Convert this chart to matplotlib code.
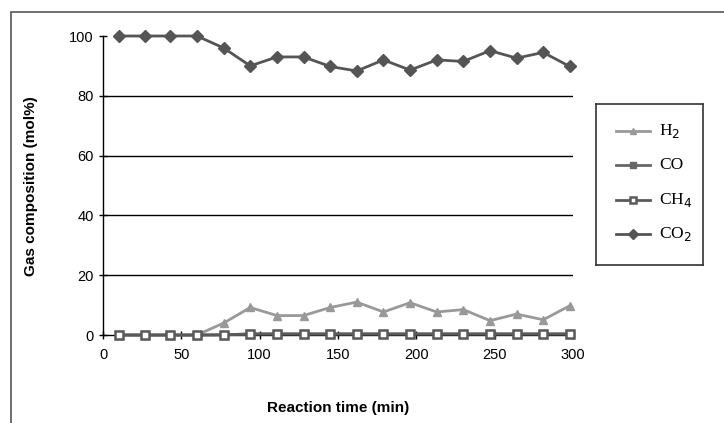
import matplotlib
matplotlib.use("Agg")
import matplotlib.pyplot as plt
from matplotlib.patches import Rectangle

time_min = [10, 27, 43, 60, 77, 94, 111, 128, 145, 162, 179, 196, 213, 230, 247, 264, 281, 298]
h2 = [0, 0, 0, 0, 4, 9.2, 6.5, 6.5, 9.2, 11, 7.7, 10.8, 7.7, 8.5, 4.8, 7, 5.1, 9.8]
co = [0, 0, 0, 0, 0, 0.4, 0.4, 0.4, 0.4, 0.4, 0.4, 0.4, 0.4, 0.4, 0.4, 0.4, 0.4, 0.4]
ch4 = [0, 0, 0, 0, 0.1, 0.3, 0.3, 0.3, 0.3, 0.3, 0.3, 0.3, 0.3, 0.3, 0.3, 0.3, 0.3, 0.3]
co2 = [100, 100, 100, 100, 96, 90, 93, 93, 89.8, 88.3, 92, 88.6, 92, 91.5, 95.1, 92.6, 94.5, 89.8]
series_names = ["H$_2$", "CO", "CH$_4$", "CO$_2$"]
xticks = [0, 50, 100, 150, 200, 250, 300]
yticks = [0, 20, 40, 60, 80, 100]

W, H = 724, 423
fig = plt.figure(figsize=(W / 100, H / 100), dpi=100)
fig.patch.set_facecolor("white")

# outer chart frame (partly outside the image)
fig.patches.append(Rectangle((11 / W, -0.1), 1.2, (H - 12) / H + 0.1, transform=fig.transFigure,
                             fill=False, edgecolor="#555555", linewidth=1.2))

ax = fig.add_axes([103 / W, 88 / H, 470 / W, 299 / H])
ax.set_xlim(0, 300)
ax.set_ylim(0, 100)
ax.set_facecolor("white")
for s in ["top", "right"]:
    ax.spines[s].set_visible(False)
for s in ["left", "bottom"]:
    ax.spines[s].set_color("black")
    ax.spines[s].set_linewidth(1.0)
for yv in yticks[1:-1]:
    ax.axhline(yv, color="black", linewidth=1.0, zorder=1)

ax.set_xticks(xticks)
ax.set_yticks(yticks)
ax.tick_params(axis="both", direction="inout", length=6, width=1, labelsize=10.5, colors="black")
ax.tick_params(axis="x", pad=6)
for lab in ax.get_xticklabels() + ax.get_yticklabels():
    lab.set_family("Liberation Sans")

lw = 2.0
styles = [
    dict(color="#999999", marker="^", mfc="#999999", mec="#999999", mew=1.0, z=3),
    dict(color="#666666", marker="s", mfc="#666666", mec="#666666", mew=1.0, z=4),
    dict(color="#5a5a5a", marker="s", mfc="white", mec="#5a5a5a", mew=1.8, z=5),
    dict(color="#555555", marker="D", mfc="#555555", mec="#555555", mew=1.0, z=3),
]
for vals, st in zip([h2, co, ch4, co2], styles):
    ax.plot(time_min, vals, color=st["color"], linewidth=lw, marker=st["marker"], markersize=6,
            markerfacecolor=st["mfc"], markeredgecolor=st["mec"], markeredgewidth=st["mew"],
            clip_on=False, zorder=st["z"])

fig.text(338 / W, 1 - 408 / H, "Reaction time (min)", ha="center", va="center",
         fontsize=11, fontweight="bold", family="Liberation Sans")
fig.text(31 / W, 1 - 186 / H, "Gas composition (mol%)", ha="center", va="center", rotation=90,
         fontsize=11, fontweight="bold", family="Liberation Sans")

# legend
lax = fig.add_axes([596 / W, 1 - 265 / H, 107 / W, 161 / H])
lax.set_xlim(0, 107)
lax.set_ylim(161, 0)
lax.set_xticks([])
lax.set_yticks([])
for s in lax.spines.values():
    s.set_color("#333333")
    s.set_linewidth(1.2)
ys = [27, 61, 96, 130]
for yy, st, name in zip(ys, styles, series_names):
    lax.plot([20, 54], [yy, yy], color=st["color"], linewidth=lw)
    lax.plot([37], [yy], marker=st["marker"], markersize=5, markerfacecolor=st["mfc"],
             markeredgecolor=st["mec"], markeredgewidth=st["mew"], linestyle="none")
    lax.text(63, yy, name, va="center", ha="left", fontsize=12.5, family="Liberation Serif")

fig.savefig("out.png", dpi=100)
